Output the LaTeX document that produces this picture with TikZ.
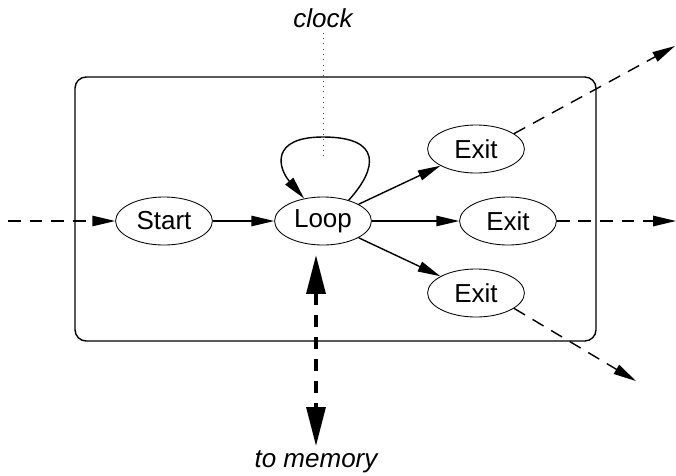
\documentclass[tikz,border=0pt]{standalone}
\usepackage{fontspec}
\setmainfont{Liberation Sans}
\usetikzlibrary{shapes,arrows.meta}
\usetikzlibrary{positioning}

\begin{document}
\begin{tikzpicture}[x=0.025cm,y=-0.025cm,
  every node/.style={font=\fontsize{18.5}{22}\selectfont},
  state/.style={ellipse,draw,line width=0.6pt,inner sep=0pt,
    minimum width=2.42cm,minimum height=1.2cm},
  flow/.style={line width=1pt,-{Triangle[length=0.57cm,width=0.26cm]}},
  leave/.style={flow,dash pattern=on 0.32cm off 0.22cm},
  memlink/.style={line width=2.6pt,dash pattern=on 0.3cm off 0.25cm,
    {Triangle[length=0.97cm,width=0.47cm]}-{Triangle[length=0.97cm,width=0.47cm]}}]

  \useasboundingbox (0,0) rectangle (676,475);

  % frame
  \draw[line width=1pt,rounded corners=0.28cm] (75,77) rectangle (596,341);

  % states
  \node[state] (start) at (164,221) {Start};
  \node[state] (loop)  at (323,221) {Loop};
  \node[state] (exA)   at (476,149) {Exit};
  \node[state] (exB)   at (508,221) {Exit};
  \node[state] (exC)   at (476,293) {Exit};

  % labels
  \node (clock)    at (323,18)  {\itshape clock};
  \node (memlabel) at (316,462) {\itshape to memory};

  \coordinate (in)   at (8,221);
  \coordinate (outA) at (675,46);
  \coordinate (outB) at (676,221);
  \coordinate (outC) at (636,381);
  \coordinate (clk)  at (323,156);
  \coordinate (mem)  at (316,446);

  % transitions
  \draw[leave] (in) -- (start);
  \draw[flow] (start) -- (loop);
  \draw[flow] (loop) -- (exA);
  \draw[flow] (loop) -- (exB);
  \draw[flow] (loop) -- (exC);
  \draw[flow] (loop.39) .. controls (378,168) and (382,137) .. (323,137)
    .. controls (270,137) and (278,168) .. (loop.130);

  % outside
  \draw[leave] (exA.22) -- (outA);
  \draw[leave] (exB) -- (outB);
  \draw[leave] (exC.-22) -- (outC);
  \draw[black!70,line width=0.6pt,dash pattern=on 0.6pt off 3.2pt]
    (clock.south) -- (clk);
  \draw[memlink,shorten <=0.24cm] (loop.south -| mem) -- (mem);

\end{tikzpicture}
\end{document}
